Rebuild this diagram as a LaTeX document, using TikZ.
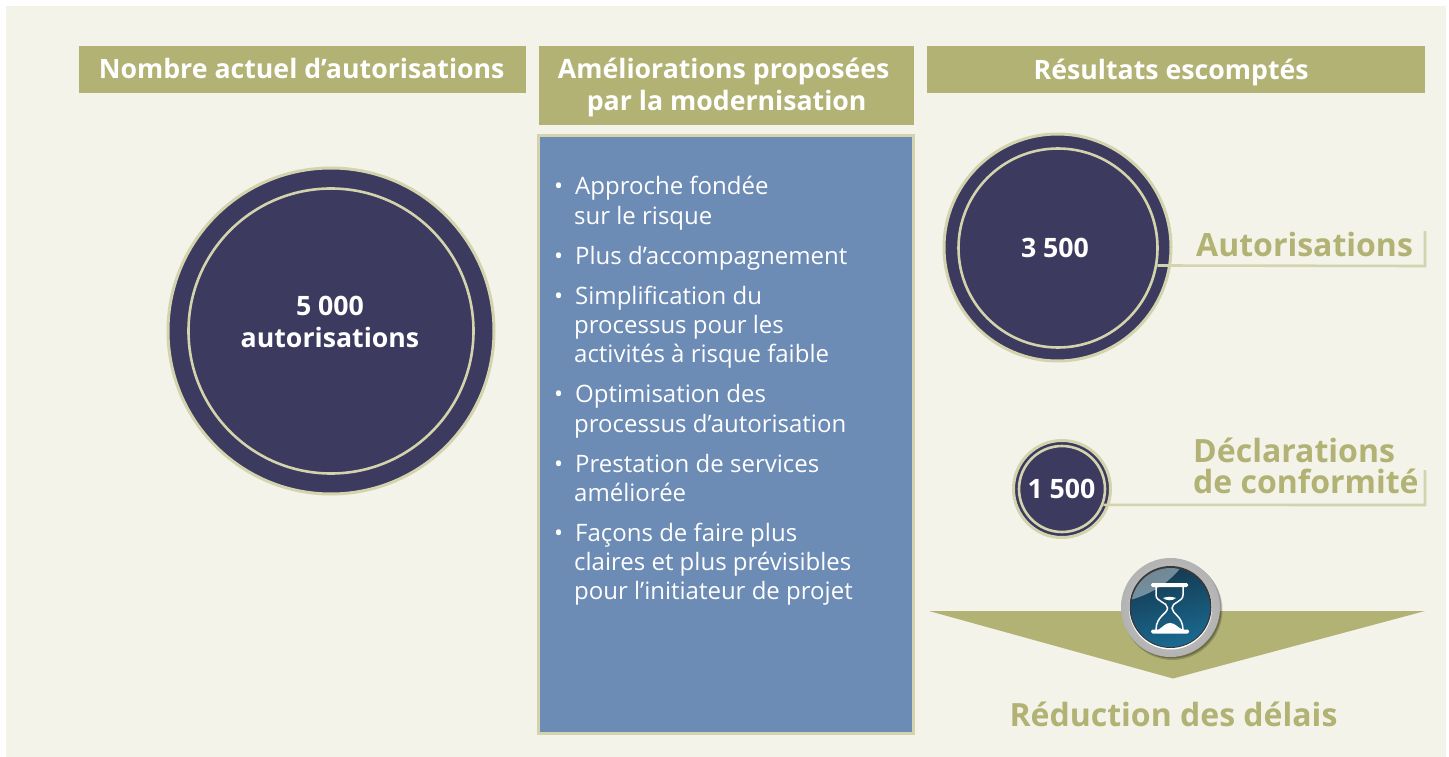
\documentclass[tikz,border=0pt]{standalone}
\usepackage{fontspec}
\setmainfont{Open Sans}
\definecolor{pagebg}{HTML}{F3F3EA}
\definecolor{olive}{HTML}{B1B274}
\definecolor{paleline}{HTML}{D3D4AE}
\definecolor{navy}{HTML}{3C3A5E}
\definecolor{steel}{HTML}{6C8BB5}
\definecolor{tealdark}{HTML}{15394F}
\definecolor{tealmid}{HTML}{1A6A92}
\tikzset{
  x=1pt,y=-1pt,
  header/.style={fill=olive,text=white,font=\bfseries\fontsize{26.7}{32}\selectfont,align=center,inner sep=0pt,anchor=north west},
  disc/.style={circle,fill=navy,draw=paleline,line width=3pt,inner sep=0pt},
  ring/.style={circle,draw=paleline,line width=2.6pt,inner sep=0pt},
  disclabel/.style={text=white,font=\bfseries\fontsize{26.7}{31.5}\selectfont,align=center,inner sep=0pt},
  result/.style={text=olive,font=\bfseries\fontsize{32}{33}\selectfont,align=left,inner sep=0pt},
  leader/.style={draw=paleline,line width=2.6pt},
}
\begin{document}
\begin{tikzpicture}
\useasboundingbox (0,0) rectangle (1449,757);
\fill[white] (0,0) rectangle (1449,757);
\fill[pagebg] (6,6) rectangle (1446,757);
% headers
\node[header,minimum width=447pt,minimum height=47pt,text height=32pt,text depth=15pt] (h1) at (79,46) {Nombre actuel d’autorisations\rule{2pt}{0pt}};
\node[header,minimum width=375pt,minimum height=79pt] (h2) at (539,46) {\rule{0pt}{24pt}Améliorations proposées\rule{6pt}{0pt}\\par la modernisation};
\node[header,minimum width=498pt,minimum height=47pt,text height=33pt,text depth=14pt] (h3) at (927,46) {Résultats escomptés\rule{10pt}{0pt}};
% left disc
\node[disc,minimum size=326pt] (d1) at (331,331) {};
\node[ring,minimum size=285pt] (r1) at (331,331) {};
\node[disclabel] (t1) at (330,322) {5 000\\autorisations};
% middle panel
\node[fill=steel,draw=paleline,line width=3pt,minimum width=375pt,minimum height=598pt,inner sep=0pt] (panel) at (726,434.5) {};
\node[text=white,font=\fontsize{24}{29.15}\selectfont,align=left,inner sep=0pt,anchor=north west] (list) at (574,176.4) {%
\llap{•\hspace{11pt}}\hspace{1pt}Approche fondée\\sur le risque\\[11pt]
\llap{•\hspace{11pt}}\hspace{1pt}Plus d’accompagnement\\[11pt]
\llap{•\hspace{11pt}}\hspace{1pt}Simplification du\\processus pour les\\activités à risque faible\\[11pt]
\llap{•\hspace{11pt}}\hspace{1pt}Optimisation des\\processus d’autorisation\\[11pt]
\llap{•\hspace{11pt}}\hspace{1pt}Prestation de services\\améliorée\\[11pt]
\llap{•\hspace{11pt}}\hspace{1pt}Façons de faire plus\\claires et plus prévisibles\\pour l’initiateur de projet};
% result discs
\coordinate (c2) at (1425,231);
\coordinate (c2b) at (1425,266);
\coordinate (c3) at (1425,470);
\coordinate (c3b) at (1425,505);
\node[disc,minimum size=227pt] (d2) at (1057.5,247.5) {};
\node[ring,minimum size=199pt] (r2) at (1058,248) {};
\draw[leader] (r2.-10.4) -- (c2b) -- (c2);
\node[disclabel] (t2) at (1055,248) {3 500};
\node[result,anchor=base west] (l2) at (1196,256) {Autorisations};
\node[disc,minimum size=97pt] (d3) at (1062,489) {};
\node[ring,minimum size=86pt] (r3) at (1062,489) {};
\draw[leader] (r3.-21.8) -- (c3b) -- (c3);
\node[disclabel] (t3) at (1061.5,489) {1 500};
\node[result,anchor=north west] (l3) at (1193,438) {Déclarations\\[-2pt]de conformité};
% chevron
\fill[olive] (929,611) -- (1425,611) -- (1173,678.5) -- cycle;
\node[result,anchor=base] (l4) at (1173.5,726) {Réduction des délais};
% hourglass badge
\fill[black,opacity=.18] (1172.5,610) circle (50);
\fill[black,opacity=.25] (1172,609) circle (49.5);
\shade[inner color=white!80!black,outer color=white!70!black] (1170.5,607.5) circle (49.5);
\fill[white] (1170.5,608) circle (41.5);
\fill[white!22!black] (1170.5,607) circle (41);
\shade[left color=tealdark,right color=tealmid,shading angle=15] (1170.5,607.5) circle (39.5);
\begin{scope}
\clip (1170.5,607.5) circle (39.5);
\fill[white,opacity=.4] (1130,600) .. controls (1138,576) and (1158,565) .. (1182,566) .. controls (1170,582) and (1152,594) .. (1130,600) -- cycle;
\end{scope}
\fill[white,rounded corners=1.5pt] (1151,583) rectangle (1188,587);
\fill[white,rounded corners=1.5pt] (1151,629.5) rectangle (1189,633.5);
\draw[white,line width=1.5pt] (1156,587) -- (1156,595) .. controls (1156,602) and (1167.5,602) .. (1167.5,608) .. controls (1167.5,614) and (1156,616) .. (1156,630);
\draw[white,line width=1.5pt] (1183,587) -- (1183,595) .. controls (1183,602) and (1172,602) .. (1172,608) .. controls (1172,614) and (1183,616) .. (1183,630);
\fill[white] (1163,598) .. controls (1167,596.5) and (1172,596.5) .. (1176,598) .. controls (1173,601) and (1166,601) .. (1163,598) -- cycle;
\fill[white] (1158,630) .. controls (1163,627) and (1165,623) .. (1170,623) .. controls (1175,623) and (1177,627) .. (1183,630) -- cycle;
\end{tikzpicture}
\end{document}
